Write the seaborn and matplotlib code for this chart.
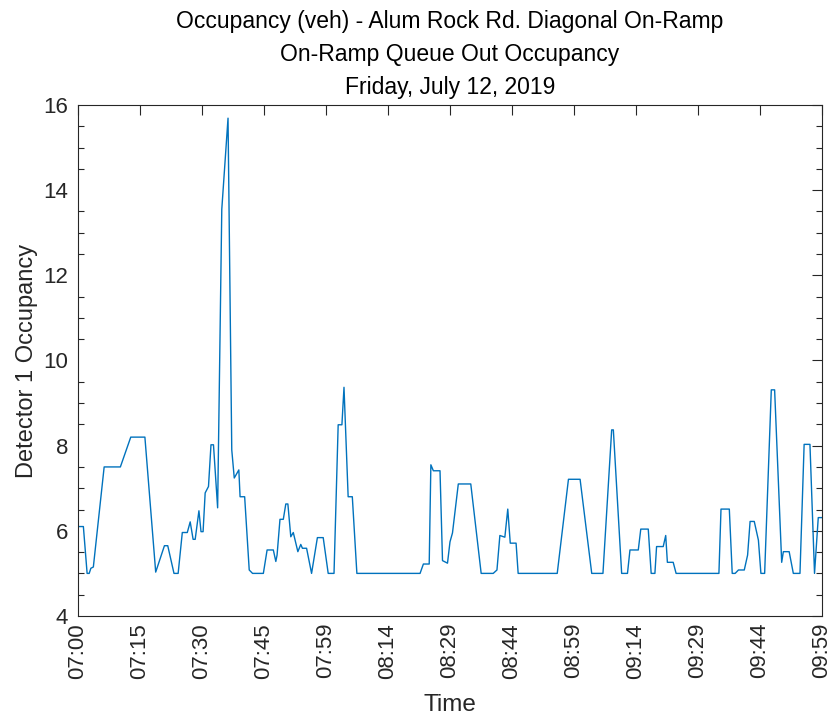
import matplotlib
matplotlib.use("Agg")
import matplotlib.pyplot as plt
import numpy as np
import pandas as pd
import seaborn as sns
from matplotlib.ticker import MultipleLocator

# minutes after 07:00 and detector 1 occupancy
minutes = [
    0.0, 1.3, 2.2, 2.7, 3.1, 3.7, 6.3, 10.2, 12.7, 16.1,
    18.7, 20.8, 21.6, 23.1, 24.1, 25.1, 26.3, 27.0, 27.7, 28.2,
    29.1, 29.6, 30.1, 30.6, 31.4, 32.0, 32.6, 33.6, 34.6, 36.1,
    37.0, 37.6, 38.7, 39.0, 40.1, 41.2, 42.0, 44.6, 45.5, 47.0,
    47.6, 47.9, 48.6, 49.4, 50.0, 50.5, 51.2, 51.8, 52.9, 53.6,
    54.0, 55.0, 56.2, 57.6, 59.0, 60.2, 61.6, 62.6, 63.5, 64.0,
    65.0, 66.0, 67.1, 82.3, 83.1, 84.5, 84.9, 85.5, 87.1, 87.7,
    88.9, 89.5, 90.1, 91.5, 94.5, 97.0, 99.9, 100.8, 101.5, 102.7,
    103.4, 104.0, 105.4, 105.9, 115.3, 118.0, 120.8, 123.6, 126.3, 128.4,
    128.8, 130.8, 132.2, 132.8, 134.8, 135.4, 137.2, 137.9, 138.8, 139.2,
    140.8, 141.4, 141.8, 143.2, 143.9, 154.2, 154.7, 156.7, 157.4, 158.1,
    158.9, 160.3, 161.1, 161.7, 162.7, 163.7, 164.3, 165.2, 166.8, 167.6,
    169.3, 169.7, 171.1, 172.1, 173.7, 174.7, 176.1, 177.2, 178.1, 179.0,
]
occupancy = [
    6.10, 6.10, 5.00, 5.00, 5.12, 5.15, 7.50, 7.50, 8.20, 8.20,
    5.03, 5.65, 5.65, 5.00, 5.00, 5.96, 5.96, 6.21, 5.80, 5.80,
    6.47, 5.98, 5.98, 6.89, 7.04, 8.02, 8.02, 6.54, 13.55, 15.69,
    7.90, 7.24, 7.43, 6.80, 6.80, 5.08, 5.00, 5.00, 5.55, 5.55,
    5.28, 5.43, 6.27, 6.27, 6.63, 6.63, 5.86, 5.96, 5.51, 5.68,
    5.59, 5.59, 5.00, 5.84, 5.84, 5.00, 5.00, 8.49, 8.49, 9.37,
    6.80, 6.80, 5.00, 5.00, 5.22, 5.22, 7.55, 7.41, 7.41, 5.30,
    5.24, 5.74, 5.95, 7.10, 7.10, 5.00, 5.00, 5.08, 5.89, 5.85,
    6.51, 5.71, 5.71, 5.00, 5.00, 7.21, 7.21, 5.00, 5.00, 8.37,
    8.37, 5.00, 5.00, 5.55, 5.55, 6.04, 6.04, 5.00, 5.00, 5.63,
    5.63, 5.89, 5.26, 5.26, 5.00, 5.00, 6.51, 6.51, 5.00, 5.00,
    5.08, 5.08, 5.43, 6.22, 6.22, 5.78, 5.00, 5.00, 9.31, 9.31,
    5.26, 5.51, 5.51, 5.00, 5.00, 8.03, 8.03, 5.00, 6.31, 6.31,
]
tick_labels = ["07:00", "07:15", "07:30", "07:45", "07:59", "08:14", "08:29",
               "08:44", "08:59", "09:14", "09:29", "09:44", "09:59"]

df = pd.DataFrame({"minute": minutes, "occupancy": occupancy})

sns.set_style("white")
plt.rcParams["font.family"] = ["Liberation Sans", "DejaVu Sans"]

fig, ax = plt.subplots(figsize=(8.33, 7.17), dpi=100)
fig.subplots_adjust(left=0.0936, right=0.9868, bottom=0.1409, top=0.8536)

sns.lineplot(data=df, x="minute", y="occupancy", color="#0072BD",
             linewidth=1.0, ax=ax)

ax.set_xlim(0, 179)
ax.set_ylim(4, 16)
ax.set_xticks(np.linspace(0, 179, len(tick_labels)))
ax.set_xticklabels(tick_labels, rotation=90)
ax.set_yticks(np.arange(4, 17, 2))
ax.yaxis.set_minor_locator(MultipleLocator(0.5))

txt = "#262626"
ax.tick_params(axis="both", which="both", direction="in", top=True,
               right=True, colors=txt, labelsize=16, width=0.8)
ax.tick_params(axis="both", which="major", length=7)
ax.tick_params(axis="y", which="major", pad=7)
ax.tick_params(axis="x", which="major", pad=5)
ax.tick_params(axis="y", which="minor", length=4, left=True, right=True)
ax.tick_params(axis="x", which="minor", bottom=False, top=False)
for s in ax.spines.values():
    s.set_visible(True)
    s.set_color(txt)
    s.set_linewidth(0.8)

ax.set_xlabel("Time", fontsize=17.5, color=txt, labelpad=11)
ax.set_ylabel("Detector 1 Occupancy", fontsize=17, color=txt)
ax.set_title("Occupancy (veh) - Alum Rock Rd. Diagonal On-Ramp\n"
             "On-Ramp Queue Out Occupancy\nFriday, July 12, 2019",
             fontsize=16.5, color="black", linespacing=1.55, pad=8)

fig.savefig("out.png", dpi=100)
